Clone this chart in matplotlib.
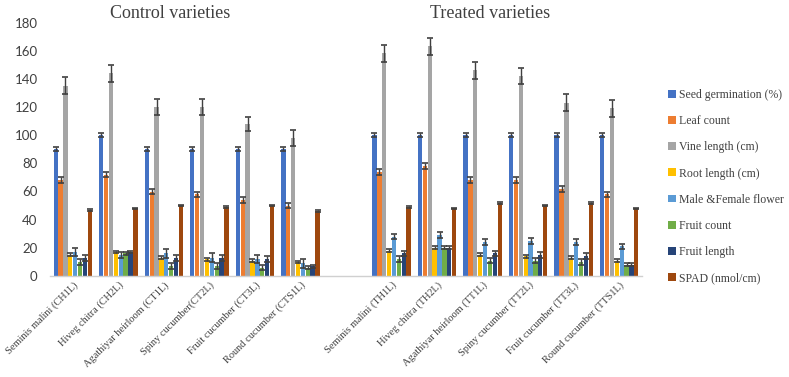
import numpy as np
import matplotlib
matplotlib.use("Agg")
import matplotlib.pyplot as plt
from matplotlib.patches import Patch

categories = ["Seminis malini (CH1L)", "Hiveg chitra (CH2L)", "Agathiyar heirloom (CT1L)",
              "Spiny cucumber(CT2L)", "Fruit cucumber (CT3L)", "Round cucumber (CTS1L)",
              "Seminis malini (TH1L)", "Hiveg chitra (TH2L)", "Agathiyar heirloom (TT1L)",
              "Spiny cucumber (TT2L)", "Fruit cucumber (TT3L)", "Round cucumber (TTS1L)"]

series_names = ["Seed germination (%)", "Leaf count", "Vine length (cm)", "Root length (cm)",
                "Male &Female flower", "Fruit count", "Fruit length", "SPAD (nmol/cm)"]

seed = [90, 100, 90, 90, 90, 90, 100, 100, 100, 100, 100, 100]
seed_err = [1.5] * 12
leaf = [68, 72, 60, 58, 54, 50, 74, 78, 68, 68, 62, 58]
leaf_err = [2] * 12
vine = [135, 144, 120, 120, 108, 98, 158, 163, 146, 142, 123, 119]
vine_err = [6, 6, 6, 6, 5, 6, 6, 6, 6, 6, 6, 6]
root = [15, 17, 13, 12, 11, 10, 18, 20, 15, 14, 13, 11]
root_err = [1] * 12
flower = [17, 15, 16, 13, 12, 9, 28, 29, 24, 25, 24, 21]
flower_err = [3, 2, 3, 3, 3, 3, 2, 2, 2, 2, 2, 2]
fruit_count = [10, 16, 7, 7, 6, 6, 12, 20, 11, 11, 10, 8]
fruit_count_err = [2, 1, 2, 2, 2, 1, 2, 1, 2, 2, 2, 1]
fruit_length = [13, 17, 13, 13, 12, 7, 16, 20, 16, 15, 14, 8]
fruit_length_err = [2, 1, 2, 2, 2, 1, 2, 1, 2, 2, 2, 1]
spad = [47, 48, 50, 49, 50, 46, 49, 48, 52, 50, 52, 48]
spad_err = [0.6] * 12

values = [seed, leaf, vine, root, flower, fruit_count, fruit_length, spad]
errors = [seed_err, leaf_err, vine_err, root_err, flower_err, fruit_count_err,
          fruit_length_err, spad_err]
colors = ["#4472C4", "#ED7D31", "#A5A5A5", "#FFC000", "#5B9BD5", "#70AD47", "#264478", "#9E480E"]

W, H = 789, 377
fig = plt.figure(figsize=(W / 100, H / 100), dpi=100)
ax = fig.add_axes([50 / W, 1 - 276 / H, (642 - 50) / W, (276 - 22.5) / H])

# control at 0..5, blank slot at 6, treated at 7..12
x = np.array(list(range(6)) + list(range(7, 13)), dtype=float)
step = 0.107
bw = 0.095
for i, (vals, errs, c) in enumerate(zip(values, errors, colors)):
    off = (i - 3.5) * step
    ax.bar(x + off, vals, width=bw, color=c, zorder=2)
    ax.errorbar(x + off, vals, yerr=errs, fmt="none", ecolor="#404040",
                elinewidth=1.0, capsize=2.5, capthick=1.2, zorder=3)

ax.set_xlim(-0.5, 12.5)
ax.set_ylim(0, 180)
ax.set_yticks(np.arange(0, 181, 20))
for s in ["top", "right", "left"]:
    ax.spines[s].set_visible(False)
ax.spines["bottom"].set_color("#D0D0D0")
ax.spines["bottom"].set_linewidth(1.0)
ax.tick_params(axis="y", length=0, pad=9, labelsize=9.5, labelcolor="#404040")
ax.tick_params(axis="x", length=0, pad=3)
for lab in ax.get_yticklabels():
    lab.set_family("Lato")
ax.set_xticks(x)
ax.set_xticklabels(categories, rotation=45, ha="right", rotation_mode="anchor",
                   family="Liberation Serif", fontsize=7.5, color="#404040")

fig.text(170 / W, 1 - 13 / H, "Control varieties", ha="center", va="center",
         family="Liberation Serif", fontsize=13, color="#404040")
fig.text(490 / W, 1 - 13 / H, "Treated varieties", ha="center", va="center",
         family="Liberation Serif", fontsize=13, color="#404040")

handles = [Patch(facecolor=c, label=n) for c, n in zip(colors, series_names)]
leg = fig.legend(handles=handles, loc="upper left", bbox_to_anchor=(668 / W, 1 - 89 / H),
                 frameon=False, prop={"family": "Liberation Serif", "size": 8.5},
                 handlelength=0.65, handleheight=0.65, handletextpad=0.3,
                 labelspacing=1.2, borderaxespad=0, borderpad=0)
for t in leg.get_texts():
    t.set_color("#404040")

fig.savefig("out.png", dpi=100)
